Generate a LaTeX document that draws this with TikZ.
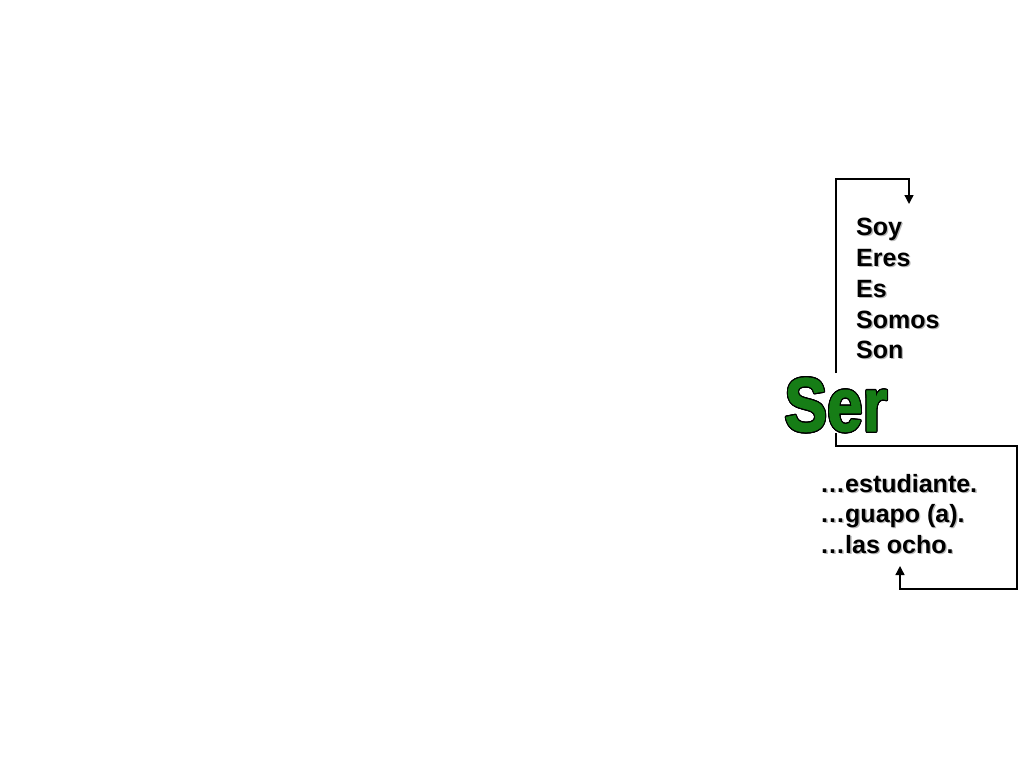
\documentclass[tikz,border=0pt]{standalone}
\usepackage{fontspec}
\setmainfont{Liberation Sans}
\newfontfamily\serfont[FakeBold=1.5]{Liberation Sans Bold}
\usepackage[copies]{contour}
\usetikzlibrary{arrows.meta}
\definecolor{sergreen}{RGB}{22,125,22}
\definecolor{shadowgray}{RGB}{185,185,185}
\newcommand\shw[1]{\rlap{\kern1.3pt\raisebox{-1.3pt}{\color{shadowgray}#1}}#1}
\begin{document}
\begin{tikzpicture}[x=1pt,y=-1pt,
  conn/.style={line width=1.4pt,-{Triangle[length=9pt,width=9pt]}},
  word/.style={anchor=base west,inner sep=0pt,font=\fontsize{25}{30}\selectfont\bfseries},
]
\useasboundingbox (0,0) rectangle (1024,768);
% verb forms
\node[word] (soy)   at (856,235) {\shw{Soy}};
\node[word] (eres)  at (856,266) {\shw{Eres}};
\node[word] (es)    at (856,297) {\shw{Es}};
\node[word] (somos) at (856,328) {\shw{Somos}};
\node[word] (son)   at (856,358) {\shw{Son}};
% Ser
\node[anchor=base,inner sep=0pt] (ser) at (836,431)
  {\scalebox{0.84}[1]{\fontsize{76}{76}\serfont\color{sergreen}\contourlength{1.3pt}\contour{black}{Ser}}};
% endings
\node[word] (est)  at (820,492) {\shw{…estudiante.}};
\node[word] (gua)  at (820,522) {\shw{…guapo (a).}};
\node[word] (las)  at (820,553) {\shw{…las ocho.}};
% connectors
\coordinate (t0) at (836,373);
\coordinate (t1) at (909,204);
\draw[conn] (t0) |- (836,179) -| (t1);
\coordinate (b0) at (836,433);
\coordinate (b1) at (900,566);
\draw[conn] (b0) |- (1017,446) |- (900,589) -- (b1);
\end{tikzpicture}
\end{document}
